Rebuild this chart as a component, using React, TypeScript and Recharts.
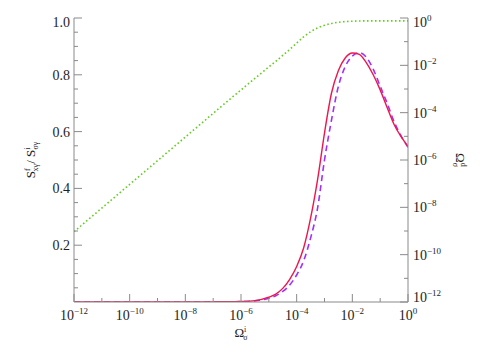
import { ComposedChart, Line, XAxis, YAxis } from 'recharts';

// log10 of Omega^i_sigma (x axis)
const logOmegaI = [
  -12, -11, -10, -9, -8, -7, -6.5, -6, -5.5, -5, -4.75, -4.5, -4.25, -4, -3.75, -3.5,
  -3.25, -3, -2.75, -2.5, -2.25, -2, -1.75, -1.5, -1.25, -1, -0.75, -0.5, -0.25, 0,
];

// S^f / S^i, solid red curve (left axis)
const ratioSolid = [
  0, 0, 0, 0, 0.0002, 0.0005, 0.001, 0.002, 0.005, 0.017, 0.028, 0.048, 0.08, 0.125, 0.19, 0.295,
  0.43, 0.595, 0.735, 0.815, 0.86, 0.877, 0.872, 0.843, 0.8, 0.747, 0.685, 0.625, 0.582, 0.548,
];

// S^f / S^i, dashed purple curve (left axis)
const ratioDashed = [
  0, 0, 0, 0, 0.0001, 0.0004, 0.0008, 0.0015, 0.004, 0.013, 0.022, 0.037, 0.06, 0.095, 0.145, 0.225,
  0.33, 0.5, 0.64, 0.76, 0.83, 0.866, 0.878, 0.862, 0.82, 0.76, 0.7, 0.635, 0.585, 0.545,
];

// log10 of Omega^d_sigma, dotted green curve (right axis)
const logOmegaD = [
  -9.03, -8.03, -7.03, -6.03, -5.03, -4.03, -3.53, -3.04, -2.55, -2.07, -1.83, -1.58, -1.33, -1.06, -0.8, -0.58,
  -0.42, -0.31, -0.23, -0.18, -0.15, -0.135, -0.125, -0.12, -0.12, -0.12, -0.12, -0.12, -0.12, -0.12,
];

const xTicks = [-12, -11, -10, -9, -8, -7, -6, -5, -4, -3, -2, -1, 0];
const leftTicks = [0.05, 0.1, 0.15, 0.2, 0.25, 0.3, 0.35, 0.4, 0.45, 0.5, 0.55, 0.6, 0.65, 0.7, 0.75, 0.8, 0.85, 0.9, 0.95, 1.0];
const rightTicks = [-12, -11, -10, -9, -8, -7, -6, -5, -4, -3, -2, -1, 0];

const data = logOmegaI.map((lx, i) => ({
  lx,
  solid: ratioSolid[i],
  dashed: ratioDashed[i],
  od: logOmegaD[i],
}));

const AXIS = '#8a8a8a';
const TXT = '#1e1e1e';
const FONT = '"Liberation Serif", "DejaVu Serif", serif';
const MAJ = 8;
const MIN = 4;
const minus = (n: number) => (n < 0 ? '\u2212' + Math.abs(n) : String(n));

const PowText = ({ x, y, exp, anchor }: any) => (
  <text x={x} y={y} textAnchor={anchor} fill={TXT} fontFamily={FONT} fontSize={14}>
    <tspan>10</tspan>
    <tspan dy={-6} fontSize={9}>{minus(exp)}</tspan>
  </text>
);

const BottomTick = (props: any) => {
  const { x, y, payload } = props;
  const ay = y - 18;
  const major = payload.value % 2 === 0;
  return (
    <g>
      <line x1={x} x2={x} y1={ay} y2={ay - (major ? MAJ : MIN)} stroke={AXIS} />
      {major && <PowText x={x} y={ay + 18} exp={payload.value} anchor="middle" />}
    </g>
  );
};

const TopTick = (props: any) => {
  const { x, y, payload } = props;
  const major = payload.value % 2 === 0;
  return <line x1={x} x2={x} y1={y} y2={y + (major ? MAJ : MIN)} stroke={AXIS} />;
};

const LeftTick = (props: any) => {
  const { x, y, payload } = props;
  const ax = x + 4;
  const major = Math.round(payload.value * 100) % 20 === 0;
  const top = payload.value >= 1;
  return (
    <g>
      <line x1={ax} x2={ax + (major ? MAJ : MIN)} y1={y} y2={y} stroke={AXIS} />
      {major && (
        <text x={ax - 4} y={y + (top ? 9 : 5)} textAnchor="end" fill={TXT} fontFamily={FONT} fontSize={14}>
          {payload.value.toFixed(1)}
        </text>
      )}
    </g>
  );
};

const RightTick = (props: any) => {
  const { x, y, payload } = props;
  const ax = x - 5;
  const major = payload.value % 2 === 0;
  const shift = payload.value === 0 ? 9 : payload.value === -12 ? 0 : 5;
  return (
    <g>
      <line x1={ax} x2={ax - (major ? MAJ : MIN)} y1={y} y2={y} stroke={AXIS} />
      {major && <PowText x={ax + 5} y={y + shift} exp={payload.value} anchor="start" />}
    </g>
  );
};

const LeftLabel = ({ viewBox }: any) => {
  const cx = viewBox.x + 27;
  const cy = viewBox.y + viewBox.height / 2;
  return (
    <text
      transform={`translate(${cx},${cy}) rotate(-90)`}
      textAnchor="middle"
      fill={TXT}
      fontFamily={FONT}
      fontSize={13}
    >
      <tspan>S</tspan>
      <tspan dy={-5} fontSize={8}>f</tspan>
      <tspan dx={-3} dy={8} fontSize={8}>xγ</tspan>
      <tspan dy={-3}>/ S</tspan>
      <tspan dy={-5} fontSize={8}>i</tspan>
      <tspan dx={-2} dy={8} fontSize={8}>σγ</tspan>
    </text>
  );
};

const RightLabel = ({ viewBox }: any) => {
  const cx = viewBox.x + 48;
  const cy = viewBox.y + viewBox.height / 2;
  return (
    <text
      transform={`translate(${cx},${cy}) rotate(90)`}
      textAnchor="middle"
      fill={TXT}
      fontFamily={FONT}
      fontSize={13}
    >
      <tspan>Ω</tspan>
      <tspan dy={-5} fontSize={8}>d</tspan>
      <tspan dx={-4} dy={8} fontSize={8}>σ</tspan>
    </text>
  );
};

const BottomLabel = ({ viewBox }: any) => {
  const cx = viewBox.x + viewBox.width / 2;
  const cy = viewBox.y + 35;
  return (
    <text x={cx} y={cy} textAnchor="middle" fill={TXT} fontFamily={FONT} fontSize={13}>
      <tspan>Ω</tspan>
      <tspan dy={-5} fontSize={8}>i</tspan>
      <tspan dx={-3} dy={8} fontSize={8}>σ</tspan>
    </text>
  );
};

export default function App() {
  return (
    <ComposedChart width={490} height={340} data={data} margin={{ top: 10, right: 0, bottom: 0, left: 0 }}>
      <XAxis
        dataKey="lx"
        type="number"
        domain={[-12, 0]}
        allowDataOverflow
        ticks={xTicks}
        interval={0}
        height={46}
        tickSize={0}
        tickMargin={18}
        tick={<BottomTick />}
        stroke={AXIS}
        label={BottomLabel}
      />
      <XAxis
        xAxisId="top"
        dataKey="lx"
        type="number"
        orientation="top"
        domain={[-12, 0]}
        allowDataOverflow
        ticks={xTicks}
        interval={0}
        height={0}
        tickSize={0}
        tickMargin={0}
        tick={<TopTick />}
        stroke={AXIS}
      />
      <YAxis
        yAxisId="left"
        type="number"
        domain={[0, 1]}
        allowDataOverflow
        ticks={leftTicks}
        interval={0}
        width={66}
        tickSize={0}
        tickMargin={4}
        tick={<LeftTick />}
        stroke={AXIS}
        label={LeftLabel}
      />
      <YAxis
        yAxisId="right"
        orientation="right"
        type="number"
        domain={[-12, 0]}
        allowDataOverflow
        ticks={rightTicks}
        interval={0}
        width={90}
        tickSize={0}
        tickMargin={5}
        tick={<RightTick />}
        stroke={AXIS}
        label={RightLabel}
      />
      <Line
        yAxisId="right"
        dataKey="od"
        type="monotone"
        stroke="#66cc22"
        strokeWidth={1.6}
        strokeDasharray="1.6 2.4"
        dot={false}
        isAnimationActive={false}
      />
      <Line
        yAxisId="left"
        dataKey="dashed"
        type="monotone"
        stroke="#a030ff"
        strokeWidth={1.6}
        strokeDasharray="6 4"
        dot={false}
        isAnimationActive={false}
      />
      <Line
        yAxisId="left"
        dataKey="solid"
        type="monotone"
        stroke="#f0144a"
        strokeWidth={1.4}
        dot={false}
        isAnimationActive={false}
      />
    </ComposedChart>
  );
}
